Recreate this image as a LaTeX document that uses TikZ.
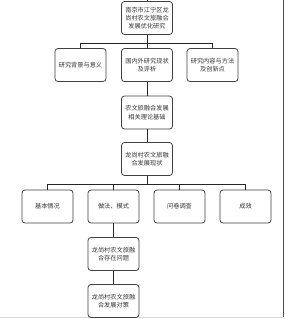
\documentclass[tikz,border=0pt]{standalone}
\usepackage{fontspec}
\newfontfamily\cjk{Noto Sans CJK SC}
\begin{document}
\begin{tikzpicture}[x=1pt,y=-1pt,
  box/.style={draw=black!75,line width=0.8pt,rounded corners=3pt,fill=white,
    minimum width=51pt,minimum height=33pt,inner sep=1pt,align=center,
    font=\cjk\fontsize{6.2}{8.3}\selectfont,text=black!80},
  link/.style={draw=black!85,line width=0.8pt}]
\useasboundingbox (0,0) rectangle (286,319);
\fill[white] (0,0) rectangle (286,319);
\draw[black!70,line width=0.8pt] (283,0) -- (283,317);
\draw[black!15,line width=0.8pt] (0,317.5) -- (283,317.5);
\node[box] (top) at (147,18) {南京市江宁区龙\\尚村农文旅融合\\发展优化研究};
\coordinate (up) at (147,0);
\node[box] (a1) at (80.5,65) {研究背景与意义};
\node[box] (a2) at (147,65) {国内外研究现状\\及评析};
\node[box] (a3) at (212.5,65) {研究内容与方法\\及创新点};
\node[box] (b) at (147,112.5) {农文旅融合发展\\相关理论基础};
\node[box] (c) at (147,159) {龙尚村农文旅融\\合发展现状};
\node[box] (d1) at (47.5,206.5) {基本情况};
\node[box] (d2) at (113.5,206.5) {做法、模式};
\node[box] (d3) at (179.5,206.5) {问卷调查};
\node[box] (d4) at (245.5,206.5) {成效};
\node[box] (e) at (113.5,254) {龙尚村农文旅融\\合存在问题};
\node[box] (f) at (113.5,301) {龙尚村农文旅融\\合发展对策};
\draw[link] (up) -- (top.north);
\draw[link] (top.south) -- ++(0,8) -| (a1.north);
\draw[link] (top.south) -- ++(0,8) -| (a3.north);
\draw[link] (top.south) -- (a2.north);
\draw[link] (a2.south) -- (b.north);
\draw[link] (b.south) -- (c.north);
\draw[link] (c.south) -- ++(0,8) -| (d1.north);
\draw[link] (c.south) -- ++(0,8) -| (d2.north);
\draw[link] (c.south) -- ++(0,8) -| (d3.north);
\draw[link] (c.south) -- ++(0,8) -| (d4.north);
\draw[link] (d2.south) -- (e.north);
\draw[link] (e.south) -- (f.north);
\end{tikzpicture}
\end{document}
